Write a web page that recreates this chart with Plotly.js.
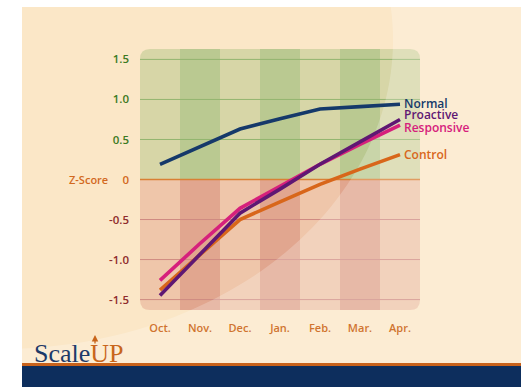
<!DOCTYPE html>
<html>
<head>
<meta charset="utf-8">
<script src="https://cdn.plot.ly/plotly-3.0.1.min.js"></script>
<style>
  html, body { margin: 0; padding: 0; background: #ffffff; }
  #chart { width: 521px; height: 387px; }
</style>
</head>
<body>
<div id="chart"></div>
<script>
// Monthly Z-scores for the four reading groups
const months = ['Oct.', 'Nov.', 'Dec.', 'Jan.', 'Feb.', 'Mar.', 'Apr.'];
const normal     = [0.19, 0.41, 0.63, 0.76, 0.88, 0.91, 0.94];
const proactive  = [-1.45, -0.93, -0.42, -0.12, 0.19, 0.47, 0.75];
const responsive = [-1.26, -0.80, -0.36, -0.08, 0.19, 0.44, 0.68];
const control    = [-1.38, -0.94, -0.50, -0.28, -0.06, 0.13, 0.31];

const yTicks = [-1.5, -1.0, -0.5, 0, 0.5, 1.0, 1.5];
const yTickText = ['-1.5', '-1.0', '-0.5', '0', '0.5', '1.0', '1.5'];

// Page geometry (pixels)
const W = 521, H = 387;
const M = { l: 140, r: 101, t: 49, b: 77 };
const plotW = W - M.l - M.r, plotH = H - M.t - M.b;
const px = x => (x - M.l) / plotW;
const py = y => (H - M.b - y) / plotH;

const Y0 = -1.63, Y1 = 1.63;
const X0 = -0.5, X1 = months.length - 0.5;
// axis value -> paper fraction (the plot area spans the axis ranges exactly)
const xP = v => (v - X0) / (X1 - X0);
const yP = v => (v - Y0) / (Y1 - Y0);

const series = [
  { name: 'Normal',     y: normal,     color: '#15396a', shift: 1 },
  { name: 'Control',    y: control,    color: '#d8661a', shift: 0 },
  { name: 'Responsive', y: responsive, color: '#d6207c', shift: -2 },
  { name: 'Proactive',  y: proactive,  color: '#5f1773', shift: 5 }
];

const traces = series.map(s => ({
  type: 'scatter',
  mode: 'lines',
  x: months,
  y: s.y,
  name: s.name,
  line: { color: s.color, width: 3.6 },
  hoverinfo: 'skip'
}));

const tickColor = v => v > 0 ? '#3b7a1f' : (v < 0 ? '#8e2b2b' : '#d2691e');

const shapes = [];
const paperShape = o => Object.assign({ xref: 'paper', yref: 'paper', layer: 'below', line: { width: 0 } }, o);

// page background
shapes.push(paperShape({ type: 'rect', x0: px(22), x1: px(W), y0: py(363), y1: py(7), fillcolor: '#fbe7c7' }));

// panel halves with rounded outer corners (10px radius)
const rx = 10 / plotW, ry = 10 / plotH;
const L = xP(X0), R = xP(X1), T = yP(Y1), B = yP(Y0), Z = yP(0);
shapes.push(paperShape({ type: 'path',
  path: `M ${L} ${Z} L ${L} ${T - ry} Q ${L} ${T} ${L + rx} ${T} L ${R - rx} ${T} Q ${R} ${T} ${R} ${T - ry} L ${R} ${Z} Z`,
  fillcolor: '#d7d6a7' }));
shapes.push(paperShape({ type: 'path',
  path: `M ${L} ${Z} L ${L} ${B + ry} Q ${L} ${B} ${L + rx} ${B} L ${R - rx} ${B} Q ${R} ${B} ${R} ${B + ry} L ${R} ${Z} Z`,
  fillcolor: '#efc6aa' }));

// darker alternating month columns
for (let i = 1; i < months.length; i += 2) {
  shapes.push(paperShape({ type: 'rect', x0: xP(i - 0.5), x1: xP(i + 0.5), y0: Z, y1: T, fillcolor: '#bac991' }));
  shapes.push(paperShape({ type: 'rect', x0: xP(i - 0.5), x1: xP(i + 0.5), y0: B, y1: Z, fillcolor: '#e1a68f' }));
}

// horizontal grid lines, coloured by sign
yTicks.forEach(v => {
  shapes.push(paperShape({ type: 'line', x0: L, x1: R, y0: yP(v), y1: yP(v),
    line: { color: v > 0 ? '#93b56f' : (v < 0 ? '#cf8a82' : '#d98035'), width: v === 0 ? 1.3 : 1 } }));
});

// soft light sweep across the lower right of the page
(function () {
  const cx = 0, cy = 40, a = 393, b = 309;
  const tStart = Math.acos(22 / a), tEnd = -Math.asin(33 / b);
  const pts = [];
  const n = 60;
  for (let k = 0; k <= n; k++) {
    const t = tStart + (tEnd - tStart) * k / n;
    pts.push([cx + a * Math.cos(t), cy + b * Math.sin(t)]);
  }
  pts.push([W, 7], [W, 363], [22, 363]);
  const d = pts.map((p, k) => (k ? 'L ' : 'M ') + px(p[0]).toFixed(4) + ' ' + py(p[1]).toFixed(4)).join(' ') + ' Z';
  shapes.push(paperShape({ type: 'path', path: d, fillcolor: 'rgba(255,255,255,0.22)' }));
})();

// footer rule and band
shapes.push(paperShape({ type: 'rect', layer: 'above', x0: px(22), x1: px(W), y0: py(366), y1: py(363), fillcolor: '#c8621b' }));
shapes.push(paperShape({ type: 'rect', layer: 'above', x0: px(22), x1: px(W), y0: py(H), y1: py(366), fillcolor: '#0d2e5d' }));

const labelFont = { family: 'Open Sans, Noto Sans, sans-serif', size: 12, weight: 600 };

const annotations = series.map(s => ({
  xref: 'x', yref: 'y',
  x: months.length - 1, y: s.y[s.y.length - 1],
  text: s.name, showarrow: false,
  xanchor: 'left', yanchor: 'middle', xshift: 3, yshift: s.shift,
  borderpad: 0,
  font: Object.assign({}, labelFont, { color: s.color })
}));

annotations.push({
  xref: 'paper', yref: 'y', x: px(110), y: 0,
  text: 'Z-Score', showarrow: false, xanchor: 'right', yanchor: 'middle',
  font: { family: 'Open Sans, sans-serif', size: 11, weight: 600, color: '#d2691e' }
});

// ScaleUP wordmark
annotations.push({
  xref: 'paper', yref: 'paper', x: px(32), y: py(353),
  text: '<span style="color:#1d3a69">Scale</span><span style="color:#c8651b">UP</span>',
  showarrow: false, xanchor: 'left', yanchor: 'middle',
  font: { family: 'Liberation Serif, serif', size: 26, color: '#1d3a69' }
});
annotations.push({
  xref: 'paper', yref: 'paper', x: px(95), y: py(335),
  ax: 0, ay: 10, text: '', showarrow: true,
  arrowhead: 2, arrowsize: 1, arrowwidth: 1.3, arrowcolor: '#c8651b'
});

const layout = {
  width: W, height: H,
  margin: M,
  paper_bgcolor: '#ffffff',
  plot_bgcolor: 'rgba(0,0,0,0)',
  showlegend: false,
  xaxis: {
    type: 'category', range: [X0, X1],
    showgrid: false, zeroline: false, showline: false, ticks: '',
    ticklabelstandoff: 10,
    tickfont: { family: 'Open Sans, sans-serif', size: 11, weight: 600, color: '#d0742f' }
  },
  yaxis: {
    range: [Y0, Y1],
    showgrid: false, zeroline: false, showline: false, ticks: '',
    tickvals: yTicks,
    ticktext: yTicks.map((v, i) => `<span style="color:${tickColor(v)}">${yTickText[i]}</span>`),
    ticklabelstandoff: 10,
    tickfont: { family: 'Open Sans, sans-serif', size: 11.5, weight: 600 }
  },
  shapes: shapes,
  annotations: annotations
};

Plotly.newPlot('chart', traces, layout, { displayModeBar: false, staticPlot: true });
</script>
</body>
</html>
